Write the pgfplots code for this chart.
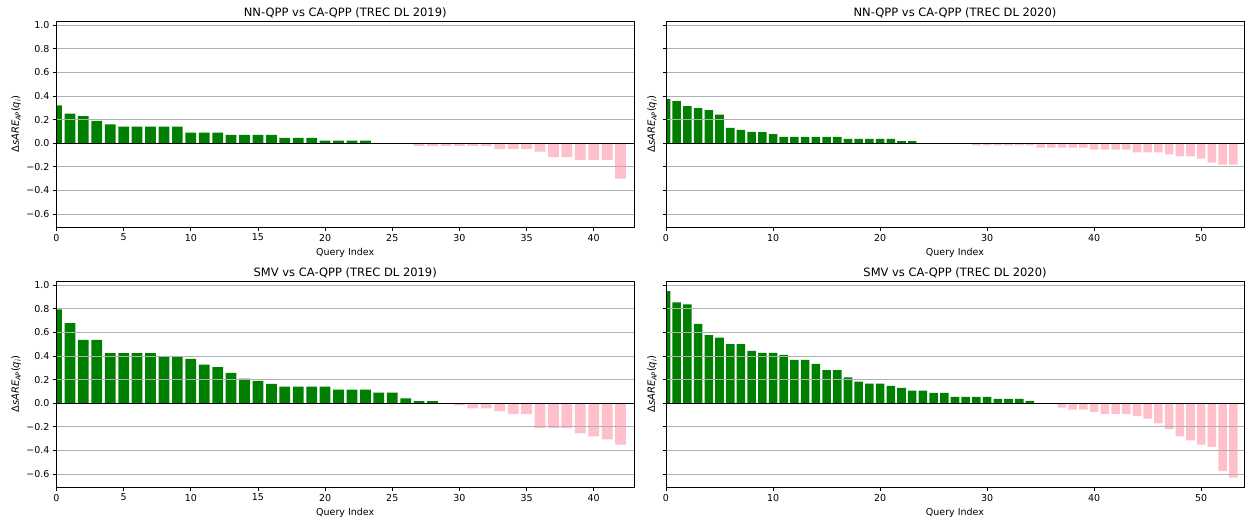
\documentclass[border=0pt]{standalone}
\usepackage{fontspec}
\setmainfont{DejaVu Sans}
\usepackage{pgfplots}
\pgfplotsset{compat=1.18}
\definecolor{mgreen}{HTML}{008000}
\definecolor{mpink}{HTML}{FFC0CB}
\definecolor{mgrid}{HTML}{B0B0B0}
\newcommand{\ylab}{Δ\textit{sARE}\raisebox{-0.35ex}{\fontsize{6.8}{7}\selectfont\textit{AP}}(\textit{q}\raisebox{-0.35ex}{\fontsize{6.8}{7}\selectfont\textit{i}})}
\pgfplotsset{
  panel/.style={
    scale only axis, height=205.3pt, anchor=south west,
    ymin=-0.709, ymax=1.029,
    ytick={-0.6,-0.4,-0.2,0.2,0.4,0.6,0.8,1.0},
    extra y ticks={0}, extra y tick style={grid=none},
    ymajorgrids, grid style={mgrid, line width=0.8pt},
    axis on top,
    axis line style={black, line width=0.8pt},
    tick align=outside, tick pos=left,
    major tick length=3.5pt,
    every tick/.style={black, line width=0.8pt},
    ybar, bar width=0.8,
    every axis plot/.append style={bar shift=0pt, draw=none},
    /pgf/number format/assume math mode=true,
    tick label style={font=\fontsize{9.5}{11}\selectfont},
    label style={font=\fontsize{9.5}{11}\selectfont},
    every axis title/.style={font=\fontsize{11.5}{13}\selectfont, at={(0.5,1)}, anchor=base, yshift=5.2pt},
    xlabel={Query Index},
    ylabel={\ylab},
  },
  leftp/.style={panel, width=577.5pt, xmin=0, xmax=43, xtick={0,5,...,40},
    yticklabels={−0.6,−0.4,−0.2,0.2,0.4,0.6,0.8,1.0}, extra y tick labels={0.0},
    every axis y label/.style={at={(axis description cs:0,0.5)}, xshift=-40.5pt, rotate=90, anchor=center}},
  rightp/.style={panel, width=578pt, xmin=0, xmax=54, xtick={0,10,...,50},
    yticklabels={}, extra y tick labels={},
    every axis y label/.style={at={(axis description cs:0,0.5)}, xshift=-14pt, rotate=90, anchor=center}},
}
\begin{document}
\begin{tikzpicture}
\path[use as bounding box] (0,0) rectangle (1245pt,523pt);
% Top-left
\begin{axis}[leftp, at={(56.5pt,296pt)}, title={NN-QPP vs CA-QPP (TREC DL 2019)}]
\addplot[fill=mgreen] coordinates {(0,0.32)(1,0.25)(2,0.23)(3,0.19)(4,0.16)(5,0.14)(6,0.14)(7,0.14)(8,0.14)(9,0.14)(10,0.09)(11,0.09)(12,0.09)(13,0.07)(14,0.07)(15,0.07)(16,0.07)(17,0.045)(18,0.045)(19,0.045)(20,0.023)(21,0.023)(22,0.023)(23,0.023)};
\addplot[fill=mpink] coordinates {(27,-0.023)(28,-0.023)(29,-0.023)(30,-0.023)(31,-0.023)(32,-0.023)(33,-0.048)(34,-0.048)(35,-0.048)(36,-0.07)(37,-0.118)(38,-0.118)(39,-0.14)(40,-0.14)(41,-0.14)(42,-0.30)};
\addplot[sharp plot, draw=black, line width=0.8pt] coordinates {(0,0)(43,0)};
\end{axis}
% Top-right
\begin{axis}[rightp, at={(666pt,296pt)}, title={NN-QPP vs CA-QPP (TREC DL 2020)}]
\addplot[fill=mgreen] coordinates {(0,0.374)(1,0.357)(2,0.315)(3,0.298)(4,0.281)(5,0.242)(6,0.131)(7,0.114)(8,0.097)(9,0.095)(10,0.078)(11,0.055)(12,0.055)(13,0.055)(14,0.055)(15,0.055)(16,0.055)(17,0.038)(18,0.038)(19,0.038)(20,0.038)(21,0.038)(22,0.018)(23,0.018)};
\addplot[fill=mpink] coordinates {(29,-0.018)(30,-0.018)(31,-0.018)(32,-0.018)(33,-0.018)(34,-0.018)(35,-0.036)(36,-0.036)(37,-0.036)(38,-0.036)(39,-0.036)(40,-0.055)(41,-0.055)(42,-0.055)(43,-0.055)(44,-0.078)(45,-0.078)(46,-0.078)(47,-0.095)(48,-0.112)(49,-0.112)(50,-0.13)(51,-0.165)(52,-0.182)(53,-0.182)};
\addplot[sharp plot, draw=black, line width=0.8pt] coordinates {(0,0)(54,0)};
\end{axis}
% Bottom-left
\begin{axis}[leftp, at={(56.5pt,36pt)}, title={SMV vs CA-QPP (TREC DL 2019)}]
\addplot[fill=mgreen] coordinates {(0,0.794)(1,0.678)(2,0.537)(3,0.537)(4,0.424)(5,0.424)(6,0.424)(7,0.424)(8,0.395)(9,0.395)(10,0.376)(11,0.328)(12,0.305)(13,0.257)(14,0.209)(15,0.189)(16,0.164)(17,0.141)(18,0.141)(19,0.141)(20,0.141)(21,0.116)(22,0.116)(23,0.116)(24,0.089)(25,0.089)(26,0.041)(27,0.018)(28,0.018)};
\addplot[fill=mpink] coordinates {(30,-0.018)(31,-0.044)(32,-0.044)(33,-0.069)(34,-0.092)(35,-0.092)(36,-0.21)(37,-0.21)(38,-0.21)(39,-0.255)(40,-0.28)(41,-0.305)(42,-0.35)};
\addplot[sharp plot, draw=black, line width=0.8pt] coordinates {(0,0)(43,0)};
\end{axis}
% Bottom-right
\begin{axis}[rightp, at={(666pt,36pt)}, title={SMV vs CA-QPP (TREC DL 2020)}]
\addplot[fill=mgreen] coordinates {(0,0.949)(1,0.853)(2,0.836)(3,0.672)(4,0.576)(5,0.556)(6,0.5)(7,0.5)(8,0.444)(9,0.427)(10,0.427)(11,0.41)(12,0.367)(13,0.367)(14,0.333)(15,0.28)(16,0.28)(17,0.22)(18,0.184)(19,0.167)(20,0.167)(21,0.147)(22,0.13)(23,0.107)(24,0.107)(25,0.088)(26,0.088)(27,0.054)(28,0.054)(29,0.054)(30,0.054)(31,0.037)(32,0.037)(33,0.037)(34,0.02)};
\addplot[fill=mpink] coordinates {(37,-0.036)(38,-0.055)(39,-0.055)(40,-0.073)(41,-0.092)(42,-0.092)(43,-0.092)(44,-0.11)(45,-0.13)(46,-0.17)(47,-0.22)(48,-0.28)(49,-0.315)(50,-0.35)(51,-0.37)(52,-0.575)(53,-0.63)};
\addplot[sharp plot, draw=black, line width=0.8pt] coordinates {(0,0)(54,0)};
\end{axis}
\end{tikzpicture}
\end{document}
